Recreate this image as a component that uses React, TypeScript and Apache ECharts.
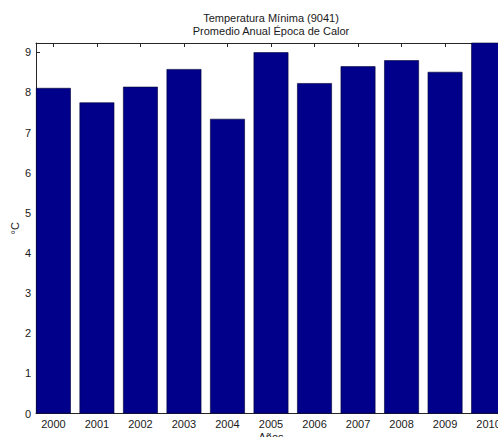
import React, { useEffect, useRef } from "react";
import * as echarts from "echarts";

const years = [2000, 2001, 2002, 2003, 2004, 2005, 2006, 2007, 2008, 2009, 2010];
const tempMin = [8.11, 7.75, 8.14, 8.58, 7.34, 9.0, 8.23, 8.65, 8.8, 8.51, 9.4];
const yTicks = [0, 1, 2, 3, 4, 5, 6, 7, 8, 9];
const titleLines = ["Temperatura Mínima (9041)", "Promedio Anual Época de Calor"];

const FONT = "'Liberation Sans', Arial, sans-serif";
const AX = "#262626";

export default function App() {
  const ref = useRef<HTMLDivElement>(null);
  useEffect(() => {
    if (!ref.current) return;
    const chart = echarts.init(ref.current, null, { renderer: "svg" });
    chart.setOption({
      animation: false,
      backgroundColor: "#ffffff",
      textStyle: { fontFamily: FONT },
      grid: {
        left: 36,
        right: -8,
        top: 43,
        bottom: 23.5,
        containLabel: false,
        outerBoundsMode: "none",
      },
      graphic: [
        {
          type: "text",
          x: 271,
          y: 18,
          style: {
            text: titleLines[0],
            textAlign: "center",
            textVerticalAlign: "middle",
            fontSize: 11,
            fontFamily: FONT,
            fill: "#1a1a1a",
          },
        },
        {
          type: "text",
          x: 271,
          y: 31,
          style: {
            text: titleLines[1],
            textAlign: "center",
            textVerticalAlign: "middle",
            fontSize: 11,
            fontFamily: FONT,
            fill: "#1a1a1a",
          },
        },
      ],
      xAxis: [
        {
          type: "value",
          position: "bottom",
          min: 1999.6,
          max: 2010.4,
          name: "Años",
          nameLocation: "middle",
          nameGap: 18,
          nameMoveOverlap: false,
          nameTextStyle: { fontSize: 11, color: "#1a1a1a", verticalAlign: "top" },
          splitLine: { show: false },
          axisLine: { show: true, lineStyle: { color: AX, width: 1 } },
          axisTick: { show: true, inside: true, length: 4, customValues: years, lineStyle: { color: AX } },
          axisLabel: {
            show: true,
            customValues: years,
            margin: 5,
            fontSize: 11,
            color: "#1a1a1a",
            formatter: (v: number) => String(Math.round(v)),
          },
        },
        {
          type: "value",
          position: "top",
          min: 1999.6,
          max: 2010.4,
          splitLine: { show: false },
          axisLine: { show: true, lineStyle: { color: AX, width: 1 } },
          axisTick: { show: true, inside: true, length: 4, customValues: years, lineStyle: { color: AX } },
          axisLabel: { show: false },
        },
      ],
      yAxis: {
        type: "value",
        min: 0,
        max: 9.23,
        name: "°C",
        nameLocation: "middle",
        nameRotate: 90,
        nameGap: 16,
        nameMoveOverlap: false,
        nameTextStyle: { fontSize: 11, color: "#1a1a1a" },
        splitLine: { show: false },
        axisLine: { show: true, lineStyle: { color: AX, width: 1 } },
        axisTick: { show: true, inside: true, length: 4, customValues: yTicks, lineStyle: { color: AX } },
        axisLabel: {
          show: true,
          customValues: yTicks,
          margin: 5,
          fontSize: 11,
          color: "#1a1a1a",
        },
      },
      series: [
        {
          type: "bar",
          xAxisIndex: 0,
          data: years.map((y, i) => [y, tempMin[i]]),
          barWidth: 34.8,
          clip: true,
          itemStyle: { color: "#00008a", borderColor: "#000033", borderWidth: 0.6 },
          emphasis: { disabled: true },
        },
      ],
    });
    return () => chart.dispose();
  }, []);
  return (
    <div
      ref={ref}
      style={{ position: "fixed", left: 0, top: 0, width: 498, height: 437 }}
    />
  );
}
